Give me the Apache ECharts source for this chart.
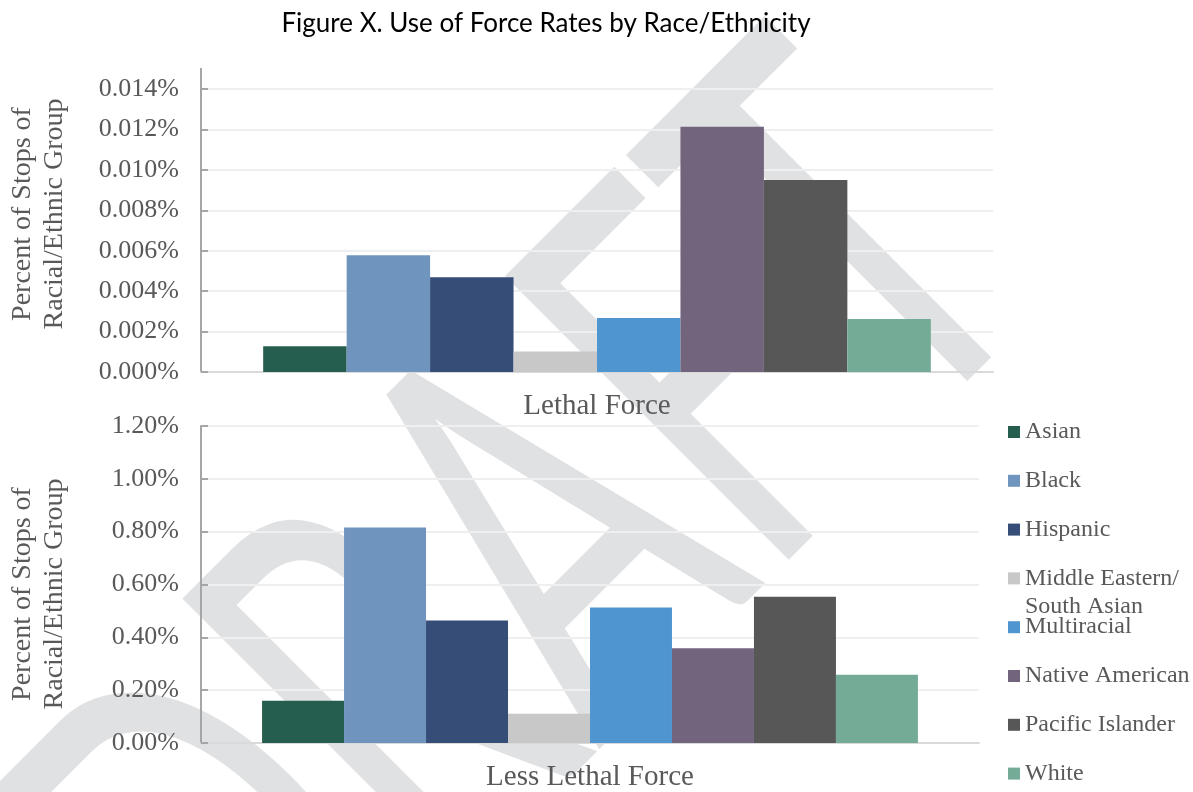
<!DOCTYPE html>
<html>
<head>
<meta charset="utf-8">
<title>Use of Force Rates by Race/Ethnicity</title>
<script src="https://cdn.jsdelivr.net/npm/echarts@6/dist/echarts.min.js"></script>
<style>
    html, body { margin: 0; padding: 0; background: #fff; }
    #chart { width: 1193px; height: 792px; }
</style>
</head>
<body>
<div id="chart"></div>
<script>
    // data (values are in percent)
    const lethalCategories = ['Lethal Force'];
    const lessLethalCategories = ['Less Lethal Force'];
    const groups = ['Asian', 'Black', 'Hispanic', 'Middle Eastern/ South Asian', 'Multiracial', 'Native American', 'Pacific Islander', 'White'];
    const groupColors = ['#255e4e', '#6f94bd', '#354d77', '#c8c8c8', '#4f96d1', '#73647e', '#575757', '#73ab96'];
    const lethalValues = [0.00127, 0.00578, 0.00469, 0.00102, 0.00267, 0.01213, 0.0095, 0.00262];
    const lessLethalValues = [0.160, 0.816, 0.464, 0.111, 0.513, 0.359, 0.554, 0.258];
    const lethalTicks = [0, 0.002, 0.004, 0.006, 0.008, 0.010, 0.012, 0.014];
    const lessLethalTicks = [0, 0.2, 0.4, 0.6, 0.8, 1.0, 1.2];

    const serif = 'Liberation Serif';
    const textGrey = '#595959';

    function yAxis(gridIndex, ticks, digits) {
        return {
            type: 'value',
            gridIndex: gridIndex,
            min: ticks[0],
            max: ticks[ticks.length - 1],
            interval: ticks[1] - ticks[0],
            axisLine: { show: true, lineStyle: { color: '#a6a6a6', width: 2 } },
            axisTick: { show: true, inside: true, length: 7, lineStyle: { color: '#a6a6a6', width: 2 } },
            splitLine: { lineStyle: { color: '#efefef', width: 2 } },
            axisLabel: {
                margin: 22,
                color: textGrey,
                fontFamily: serif,
                fontSize: 26,
                formatter: v => v.toFixed(digits) + '%'
            }
        };
    }

    function xAxis(gridIndex, cats) {
        return {
            type: 'category',
            gridIndex: gridIndex,
            data: cats,
            axisLine: { lineStyle: { color: '#d9d9d9', width: 2 } },
            axisTick: { show: false },
            axisLabel: { margin: 20, color: textGrey, fontFamily: serif, fontSize: 29 }
        };
    }

    const series = [];
    groups.forEach((name, i) => {
        series.push({
            name: name, type: 'bar', xAxisIndex: 0, yAxisIndex: 0,
            barGap: '0%', barCategoryGap: '15.7%',
            itemStyle: { color: groupColors[i] },
            data: [lethalValues[i]]
        });
    });
    groups.forEach((name, i) => {
        series.push({
            name: name, type: 'bar', xAxisIndex: 1, yAxisIndex: 1,
            barGap: '0%', barCategoryGap: '15.7%',
            itemStyle: { color: groupColors[i] },
            data: [lessLethalValues[i]]
        });
    });

    const axisTitle = 'Percent of Stops of\nRacial/Ethnic Group';

    const option = {
        animation: false,
        backgroundColor: '#fff',
        grid: [
            { left: 201, right: 200, top: 89, bottom: 420 },
            { left: 201, right: 214, top: 426, bottom: 45 }
        ],
        xAxis: [xAxis(0, lethalCategories), xAxis(1, lessLethalCategories)],
        yAxis: [yAxis(0, lethalTicks, 3), yAxis(1, lessLethalTicks, 2)],
        legend: {
            orient: 'vertical',
            left: 1008,
            top: 420,
            padding: 0,
            itemWidth: 12,
            itemHeight: 12,
            itemGap: 24.8,
            icon: 'rect',
            data: groups,
            formatter: n => n.split(' South')[0],
            textStyle: { color: textGrey, fontFamily: serif, fontSize: 24 }
        },
        graphic: [
            {
                // DRAFT watermark behind the plot (stretched tall, diagonal)
                type: 'text', x: 526, y: 567, rotation: Math.PI / 4, scaleX: 1, scaleY: 1.6, z: -10,
                style: {
                    text: 'DRAFT', fontFamily: 'Lato', fontSize: 350, fill: '#e0e1e3',
                    textAlign: 'center', textVerticalAlign: 'middle'
                }
            },
            {
                type: 'text', x: 546, y: 24,
                style: {
                    text: 'Figure X. Use of Force Rates by Race/Ethnicity',
                    fontFamily: 'Lato', fontSize: 26, fill: '#000',
                    textAlign: 'center', textVerticalAlign: 'middle'
                }
            },
            {
                type: 'text', x: 39, y: 214, rotation: Math.PI / 2,
                style: {
                    text: axisTitle, fontFamily: serif, fontSize: 28, lineHeight: 32, fill: textGrey,
                    textAlign: 'center', textVerticalAlign: 'middle'
                }
            },
            {
                type: 'text', x: 39, y: 594, rotation: Math.PI / 2,
                style: {
                    text: axisTitle, fontFamily: serif, fontSize: 28, lineHeight: 32, fill: textGrey,
                    textAlign: 'center', textVerticalAlign: 'middle'
                }
            },
            {
                type: 'text', x: 1025, y: 607,
                style: {
                    text: 'South Asian', fontFamily: serif, fontSize: 24, fill: textGrey,
                    textAlign: 'left', textVerticalAlign: 'middle'
                }
            },
            {
                // axis line continues a little above the top tick
                type: 'line',
                shape: { x1: 201, y1: 68, x2: 201, y2: 89 },
                style: { stroke: '#a6a6a6', lineWidth: 2 }
            }
        ],
        series: series
    };

    const myChart = echarts.init(document.getElementById('chart'));
    myChart.setOption(option);
</script>
</body>
</html>
